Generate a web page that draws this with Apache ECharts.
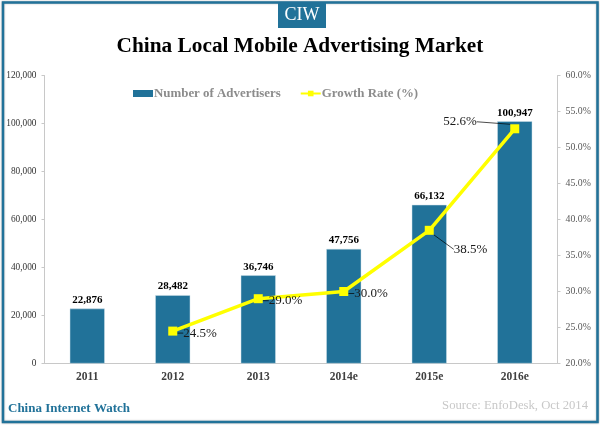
<!DOCTYPE html>
<html lang="en">
<head>
    <meta charset="UTF-8">
    <title>China Local Mobile Advertising Market</title>
    <script src="https://cdn.jsdelivr.net/npm/echarts@6/dist/echarts.min.js"></script>
    <style>
        html, body { margin: 0; padding: 0; background: #fff; }
    </style>
</head>
<body>
<div id="main" style="width: 600px;height: 425px"></div>
<script type="text/javascript">
    var years = ['2011', '2012', '2013', '2014e', '2015e', '2016e'];
    var advertisers = [22876, 28482, 36746, 47756, 66132, 100947];
    var growthRate = [null, 24.5, 29.0, 30.0, 38.5, 52.6];

    var teal = '#217299';
    var serif = '"Liberation Serif", serif';
    // label nudges for the line series, by year
    var growthNudge = {
        1: {dx: 1, dy: 2},
        2: {dx: 1, dy: 2},
        3: {dx: 1, dy: 2},
        4: {dx: 15, dy: 19},
        5: {dx: -81, dy: -7}
    };

    var myChart = echarts.init(document.getElementById('main'));
    var option = {
        animation: false,
        backgroundColor: '#fff',
        textStyle: {fontFamily: serif},
        grid: {left: 44.5, right: 42.5, top: 75.5, bottom: 61.5},
        title: {
            text: 'China Local Mobile Advertising Market',
            left: 'center',
            top: 31,
            textStyle: {fontFamily: serif, fontSize: 21.3, fontWeight: 'bold', color: '#000'}
        },
        legend: {
            top: 82,
            left: 128,
            itemGap: 19,
            itemWidth: 20,
            itemHeight: 7,
            textStyle: {fontFamily: serif, fontSize: 12.9, fontWeight: 'bold', color: '#8c8c8c', padding: [0, 0, 0, -4]},
            data: [
                {name: 'Number of Advertisers', icon: 'rect', itemStyle: {borderWidth: 0}},
                {name: 'Growth Rate (%)'}
            ]
        },
        xAxis: {
            type: 'category',
            data: years,
            axisTick: {show: false},
            axisLine: {lineStyle: {color: '#c8c8c8', width: 1}},
            axisLabel: {fontFamily: serif, fontSize: 11.5, fontWeight: 'bold', color: '#404040', margin: 8}
        },
        yAxis: [{
            type: 'value',
            min: 0,
            max: 120000,
            interval: 20000,
            splitLine: {show: false},
            axisLine: {show: true, lineStyle: {color: '#c8c8c8'}},
            axisTick: {show: true, length: 3, lineStyle: {color: '#c8c8c8'}},
            axisLabel: {
                fontFamily: serif, fontSize: 9.3, color: '#333', margin: 8,
                formatter: function (v) { return v.toLocaleString('en-US'); }
            }
        }, {
            type: 'value',
            min: 20,
            max: 60,
            interval: 5,
            position: 'right',
            splitLine: {show: false},
            axisLine: {show: true, lineStyle: {color: '#c8c8c8'}},
            axisTick: {show: true, length: 3, lineStyle: {color: '#c8c8c8'}},
            axisLabel: {
                fontFamily: serif, fontSize: 9.8, color: '#5a5a5a', margin: 8,
                formatter: function (v) { return v.toFixed(1) + '%'; }
            }
        }],
        series: [{
            name: 'Number of Advertisers',
            type: 'bar',
            barWidth: 35,
            data: advertisers,
            itemStyle: {color: teal, borderColor: '#cfe0e8', borderWidth: 0.5},
            label: {
                show: true,
                position: 'top',
                distance: 3,
                fontFamily: serif,
                fontSize: 11,
                fontWeight: 'bold',
                color: '#000',
                formatter: function (p) { return p.value.toLocaleString('en-US'); }
            }
        }, {
            name: 'Growth Rate (%)',
            type: 'line',
            yAxisIndex: 1,
            data: growthRate,
            symbol: 'rect',
            symbolSize: 9,
            z: 5,
            lineStyle: {color: '#ffff00', width: 3.5},
            itemStyle: {color: '#ffff00'},
            label: {
                show: true,
                position: 'right',
                fontFamily: serif,
                fontSize: 13,
                color: '#1a1a1a',
                formatter: function (p) { return p.value.toFixed(1) + '%'; }
            },
            labelLine: {show: true, lineStyle: {color: '#000', width: 0.7}},
            labelLayout: function (p) {
                var n = growthNudge[p.dataIndex] || {dx: 0, dy: 0};
                return {dx: n.dx, dy: n.dy};
            }
        }],
        graphic: [{
            type: 'rect',
            silent: true,
            z: -1,
            shape: {x: 3, y: 2.5, width: 594.5, height: 419.5},
            style: {fill: '#fff', stroke: teal, lineWidth: 2.5, shadowBlur: 2, shadowColor: 'rgba(0,0,0,0.3)'}
        }, {
            type: 'rect',
            shape: {x: 278, y: 2, width: 48, height: 26},
            style: {fill: teal}
        }, {
            type: 'text',
            x: 302,
            y: 15,
            style: {text: 'CIW', fill: '#fff', font: '18px ' + serif, textAlign: 'center', textVerticalAlign: 'middle'}
        }, {
            type: 'text',
            x: 8,
            y: 409,
            style: {text: 'China Internet Watch', fill: teal, font: 'bold 13px ' + serif, textVerticalAlign: 'middle'}
        }, {
            type: 'text',
            x: 588,
            y: 406,
            style: {text: 'Source: EnfoDesk, Oct 2014', fill: '#c8c8c8', font: '12.7px ' + serif, textAlign: 'right', textVerticalAlign: 'middle'}
        }]
    };
    myChart.setOption(option);
</script>
</body>
</html>
